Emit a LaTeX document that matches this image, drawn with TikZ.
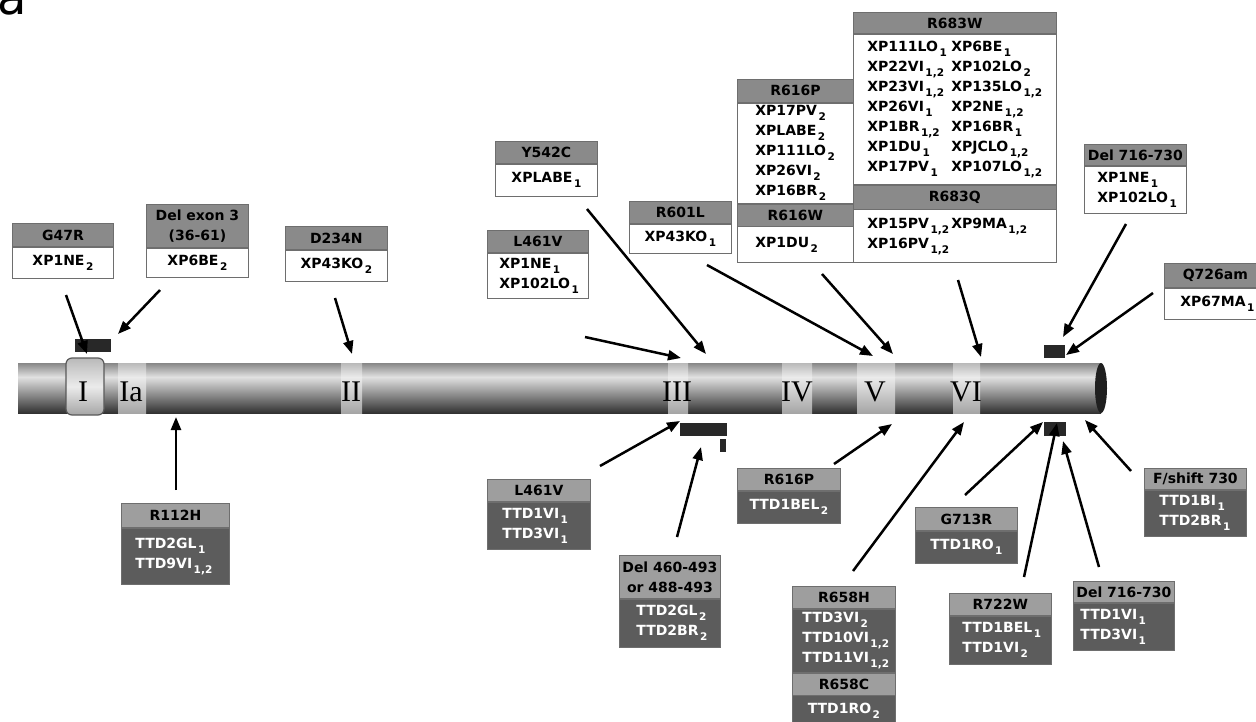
\documentclass[tikz,border=0pt]{standalone}
\usepackage{fontspec}
\setmainfont{DejaVu Sans}[BoldFont={DejaVu Sans Bold}]
\newfontfamily\bxf{DejaVu Sans Bold}
\newfontfamily\romf{Liberation Serif}
\usetikzlibrary{arrows.meta}
\definecolor{xphead}{RGB}{138,138,138}
\definecolor{tthead}{RGB}{158,158,158}
\definecolor{ttbody}{RGB}{92,92,92}
\definecolor{bordcol}{RGB}{110,110,110}
\definecolor{barcol}{RGB}{40,40,40}
\definecolor{cyltop}{RGB}{135,135,135}
\definecolor{cylhi}{RGB}{225,225,225}
\definecolor{cylbot}{RGB}{50,50,50}
\definecolor{bandtop}{RGB}{185,185,185}
\definecolor{bandhi}{RGB}{235,235,235}
\definecolor{bandbot}{RGB}{165,165,165}
\newcommand{\ix}[1]{\kern1.5pt\raisebox{-5pt}{\fontsize{10.5}{10.5}\selectfont #1}}
\newcommand{\cola}[1]{\makebox[84pt][l]{#1}}
\tikzset{
  box/.style={draw=bordcol, line width=0.8pt, inner xsep=0pt, inner ysep=0pt, anchor=north west,
    font=\bxf\fontsize{14}{20}\selectfont},
  xph/.style={box, fill=xphead, text=black, align=center},
  xpb/.style={box, fill=white, text=black},
  tth/.style={box, fill=tthead, text=black, align=center},
  ttb/.style={box, fill=ttbody, text=white},
  lft/.style 2 args={text width=#1, inner xsep=#2, align=left},
  arr/.style={line width=2.5pt, -{Triangle[length=13pt,width=10pt]}},
  roman/.style={font=\romf\fontsize{30}{30}\selectfont, text=black, anchor=base, inner sep=0pt}
}
\begin{document}
\begin{tikzpicture}[x=1pt,y=-1pt]
\useasboundingbox (0,0) rectangle (1256,721);
\clip (0,0) rectangle (1256,721);
% panel letter
\node[font=\fontsize{48}{48}\selectfont, anchor=base west, inner sep=0pt] (panel) at (-3,14) {a};
% cylinder
\shade[top color=cyltop, bottom color=cylhi] (18,363) rectangle (1101,377);
\shade[top color=cylhi, bottom color=cylbot] (18,377) rectangle (1101,413);
\fill[black!88] (1101,388) ellipse [x radius=6, y radius=25];
% bands
\foreach \xa/\xb in {118/146, 341/362, 668/688, 782/812, 857/895, 953/980}{
  \shade[top color=bandtop, bottom color=bandhi] (\xa,363) rectangle (\xb,377);
  \shade[top color=bandhi, bottom color=bandbot] (\xa,377) rectangle (\xb,413);
}
% ring I
\shade[top color=bandtop, bottom color=bandbot, middle color=bandhi, draw=black!65, line width=1.2pt, rounded corners=6pt] (66,358) rectangle (104,415);
% labels on cylinder
\node[roman] (lI) at (83,401) {I};
\node[roman] (lIa) at (131,401) {Ia};
\node[roman] (lII) at (351,401) {II};
\node[roman] (lIII) at (677,401) {III};
\node[roman] (lIV) at (797,401) {IV};
\node[roman] (lV) at (875,401) {V};
\node[roman] (lVI) at (966,401) {VI};
% dark bars
\fill[barcol] (75,339) rectangle (111,352);
\fill[barcol] (1044,345) rectangle (1065,358);
\fill[barcol] (680,423) rectangle (727,436);
\fill[barcol] (720,439) rectangle (726,452);
\fill[barcol] (1044,422) rectangle (1066,436);
% ---------------- top boxes (XP)
\node[xph, minimum width=101pt, minimum height=23pt] (g47h) at (12,223) {G47R};
\node[xpb, minimum width=101pt, minimum height=31pt] (g47b) at (g47h.south west) {XP1NE\ix{2}};
\node[xph, minimum width=102pt, minimum height=43pt] (dexh) at (146,204) {Del exon 3\\(36-61)};
\node[xpb, minimum width=102pt, minimum height=29pt] (dexb) at (dexh.south west) {XP6BE\ix{2}};
\node[xph, minimum width=102pt, minimum height=23pt] (d234h) at (285,226) {D234N};
\node[xpb, minimum width=102pt, minimum height=31pt] (d234b) at (d234h.south west) {XP43KO\ix{2}};
\node[xph, minimum width=101pt, minimum height=22pt] (l461h) at (487,230) {L461V};
\node[xpb, lft={77pt}{12pt}, minimum height=45pt] (l461b) at (l461h.south west) {XP1NE\ix{1}\\XP102LO\ix{1}};
\node[xph, minimum width=102pt, minimum height=22pt] (y542h) at (495,141) {Y542C};
\node[xpb, minimum width=102pt, minimum height=32pt] (y542b) at (y542h.south west) {XPLABE\ix{1}};
\node[xph, minimum width=102pt, minimum height=22pt] (r601h) at (629,201) {R601L};
\node[xpb, minimum width=102pt, minimum height=29pt] (r601b) at (r601h.south west) {XP43KO\ix{1}};
\node[xph, minimum width=116pt, minimum height=23pt] (r616ph) at (737,79) {R616P};
\node[xpb, lft={80pt}{18pt}, minimum height=100pt] (r616pb) at (r616ph.south west) {XP17PV\ix{2}\\XPLABE\ix{2}\\XP111LO\ix{2}\\XP26VI\ix{2}\\XP16BR\ix{2}};
\node[xph, minimum width=116pt, minimum height=22pt] (r616wh) at (r616pb.south west) {R616W};
\node[xpb, lft={80pt}{18pt}, minimum height=36pt] (r616wb) at (r616wh.south west) {XP1DU\ix{2}};
\node[xph, minimum width=203pt, minimum height=21pt] (r683wh) at (853,12) {R683W};
\node[xpb, lft={175pt}{14pt}, minimum height=150pt] (r683wb) at (r683wh.south west) {\cola{XP111LO\ix{1}}XP6BE\ix{1}\\
  \cola{XP22VI\ix{1,2}}XP102LO\ix{2}\\
  \cola{XP23VI\ix{1,2}}XP135LO\ix{1,2}\\
  \cola{XP26VI\ix{1}}XP2NE\ix{1,2}\\
  \cola{XP1BR\ix{1,2}}XP16BR\ix{1}\\
  \cola{XP1DU\ix{1}}XPJCLO\ix{1,2}\\
  \cola{XP17PV\ix{1}}XP107LO\ix{1,2}};
\node[xph, minimum width=203pt, minimum height=24pt] (r683qh) at (r683wb.south west) {R683Q};
\node[xpb, lft={175pt}{14pt}, minimum height=53pt] (r683qb) at (r683qh.south west) {\cola{XP15PV\ix{1,2}}XP9MA\ix{1,2}\\XP16PV\ix{1,2}};
\node[xph, minimum width=102pt, minimum height=21pt] (d716th) at (1084,144) {Del 716-730};
\node[xpb, lft={76pt}{13pt}, minimum height=47pt] (d716tb) at (d716th.south west) {XP1NE\ix{1}\\XP102LO\ix{1}};
\node[xph, minimum width=102pt, minimum height=24pt] (q726h) at (1164,263) {Q726am};
\node[xpb, lft={70pt}{16pt}, minimum height=31pt] (q726b) at (q726h.south west) {XP67MA\ix{1}};
% ---------------- bottom boxes (TTD)
\node[tth, minimum width=108pt, minimum height=24pt] (r112h) at (121,503) {R112H};
\node[ttb, lft={80pt}{14pt}, minimum height=56pt] (r112b) at (r112h.south west) {TTD2GL\ix{1}\\TTD9VI\ix{1,2}};
\node[tth, minimum width=103pt, minimum height=22pt] (l461th) at (487,479) {L461V};
\node[ttb, lft={73pt}{15pt}, minimum height=47pt] (l461tb) at (l461th.south west) {TTD1VI\ix{1}\\TTD3VI\ix{1}};
\node[tth, minimum width=101pt, minimum height=43pt] (d460h) at (619,555) {Del 460-493\\or 488-493};
\node[ttb, lft={67pt}{17pt}, minimum height=48pt] (d460b) at (d460h.south west) {TTD2GL\ix{2}\\TTD2BR\ix{2}};
\node[tth, minimum width=103pt, minimum height=22pt] (r616th) at (737,468) {R616P};
\node[ttb, minimum width=103pt, minimum height=32pt] (r616tb) at (r616th.south west) {TTD1BEL\ix{2}};
\node[tth, minimum width=103pt, minimum height=22pt] (r658hh) at (792,586) {R658H};
\node[ttb, lft={83pt}{10pt}, minimum height=63pt] (r658hb) at (r658hh.south west) {TTD3VI\ix{2}\\TTD10VI\ix{1,2}\\TTD11VI\ix{1,2}};
\node[tth, minimum width=103pt, minimum height=22pt] (r658ch) at (r658hb.south west) {R658C};
\node[ttb, minimum width=103pt, minimum height=30pt] (r658cb) at (r658ch.south west) {TTD1RO\ix{2}};
\node[tth, minimum width=102pt, minimum height=23pt] (g713h) at (915,507) {G713R};
\node[ttb, minimum width=102pt, minimum height=32pt] (g713b) at (g713h.south west) {TTD1RO\ix{1}};
\node[tth, minimum width=102pt, minimum height=22pt] (r722h) at (949,593) {R722W};
\node[ttb, lft={76pt}{13pt}, minimum height=48pt] (r722b) at (r722h.south west) {TTD1BEL\ix{1}\\TTD1VI\ix{2}};
\node[tth, minimum width=101pt, minimum height=21pt] (d716bh) at (1073,581) {Del 716-730};
\node[ttb, lft={87pt}{7pt}, minimum height=47pt] (d716bb) at (d716bh.south west) {TTD1VI\ix{1}\\TTD3VI\ix{1}};
\node[tth, minimum width=102pt, minimum height=21pt] (fsh) at (1144,468) {F/shift 730};
\node[ttb, lft={72pt}{15pt}, minimum height=46pt] (fsb) at (fsh.south west) {TTD1BI\ix{1}\\TTD2BR\ix{1}};
% ---------------- arrows
\coordinate (a1s) at (66,295);   \coordinate (a1e) at (87,354);
\coordinate (a2s) at (160,290);  \coordinate (a2e) at (118,334);
\coordinate (a3s) at (335,298);  \coordinate (a3e) at (352,354);
\coordinate (a4s) at (585,337);  \coordinate (a4e) at (681,358);
\coordinate (a5s) at (587,209);  \coordinate (a5e) at (706,354);
\coordinate (a6s) at (707,265);  \coordinate (a6e) at (873,356);
\coordinate (a7s) at (822,274);  \coordinate (a7e) at (893,354);
\coordinate (a8s) at (958,280);  \coordinate (a8e) at (981,357);
\coordinate (a9s) at (1126,224); \coordinate (a9e) at (1063,337);
\coordinate (a10s) at (1153,293); \coordinate (a10e) at (1066,355);
\coordinate (b1s) at (176,490);  \coordinate (b1e) at (176,417);
\coordinate (b2s) at (600,466);  \coordinate (b2e) at (680,421);
\coordinate (b3s) at (677,537);  \coordinate (b3e) at (701,447);
\coordinate (b4s) at (834,464);  \coordinate (b4e) at (892,424);
\coordinate (b5s) at (853,571);  \coordinate (b5e) at (964,422);
\coordinate (b6s) at (965,495);  \coordinate (b6e) at (1043,422);
\coordinate (b7s) at (1024,577); \coordinate (b7e) at (1057,423);
\coordinate (b8s) at (1099,567); \coordinate (b8e) at (1063,441);
\coordinate (b9s) at (1131,471); \coordinate (b9e) at (1085,420);
\foreach \p in {a1,a2,a3,a4,a5,a6,a7,a8,a9,a10,b1,b2,b3,b4,b5,b6,b7,b8,b9}{
  \draw[arr] (\p s) -- (\p e);
}
\end{tikzpicture}
\end{document}
